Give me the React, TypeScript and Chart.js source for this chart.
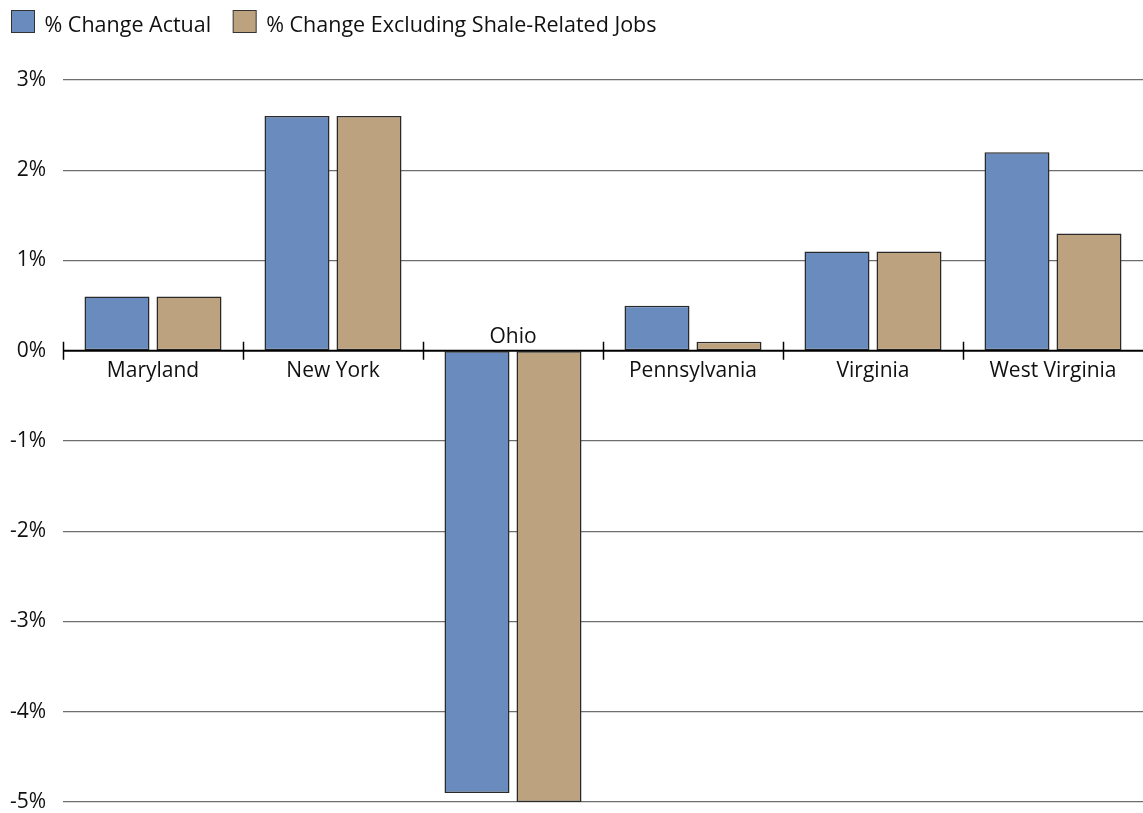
import React, { useEffect, useRef } from "react";
import { Chart, registerables } from "chart.js";

Chart.register(...registerables);

const categories = ["Maryland", "New York", "Ohio", "Pennsylvania", "Virginia", "West Virginia"];
const actualChange = [0.6, 2.6, -4.9, 0.5, 1.1, 2.2];
const excludingShale = [0.6, 2.6, -5.0, 0.1, 1.1, 1.3];
const seriesNames = ["% Change Actual", "% Change Excluding Shale-Related Jobs"];
const yMin = -5;
const yMax = 3;

const FONT = "'Open Sans', 'Noto Sans', sans-serif";
const BLUE = "#6a8bbe";
const TAN = "#bca27e";
const EDGE = "#2a2a2a";

const overlayPlugin = {
  id: "overlay",
  afterDatasetsDraw(chart: any) {
    const ctx = chart.ctx as CanvasRenderingContext2D;
    const x = chart.scales.x;
    const y = chart.scales.y;
    const area = chart.chartArea;
    const y0 = y.getPixelForValue(0);
    ctx.save();
    // zero axis line
    ctx.strokeStyle = "#000";
    ctx.lineWidth = 2;
    ctx.beginPath();
    ctx.moveTo(area.left, y0);
    ctx.lineTo(area.right, y0);
    ctx.stroke();
    // category boundary ticks
    ctx.lineWidth = 1.5;
    const n = categories.length;
    const step = (area.right - area.left) / n;
    for (let i = 0; i < n; i++) {
      const cx = x.getPixelForValue(i) - step / 2;
      ctx.beginPath();
      ctx.moveTo(Math.round(cx) + 0.5, y0 - 9);
      ctx.lineTo(Math.round(cx) + 0.5, y0 + 9);
      ctx.stroke();
    }
    // category labels
    ctx.fillStyle = "#111";
    ctx.font = `21px ${FONT}`;
    ctx.textAlign = "center";
    ctx.textBaseline = "alphabetic";
    categories.forEach((c, i) => {
      const cx = x.getPixelForValue(i);
      const neg = actualChange[i] < 0 && excludingShale[i] < 0;
      ctx.fillText(c, cx, neg ? y0 - 8 : y0 + 26);
    });
    // legend
    const colors = [BLUE, TAN];
    let lx = 11.5;
    ctx.textAlign = "left";
    ctx.font = `21.5px ${FONT}`;
    seriesNames.forEach((name, i) => {
      ctx.fillStyle = colors[i];
      ctx.fillRect(lx, 10.5, 23, 22);
      ctx.strokeStyle = "#333";
      ctx.lineWidth = 1;
      ctx.strokeRect(lx, 10.5, 23, 22);
      ctx.fillStyle = "#111";
      ctx.fillText(name, lx + 33, 32);
      lx += 33 + ctx.measureText(name).width + 22;
    });
    ctx.restore();
  },
};

export default function App() {
  const ref = useRef<HTMLCanvasElement | null>(null);
  useEffect(() => {
    if (!ref.current) return;
    const chart = new Chart(ref.current, {
      type: "bar",
      data: {
        labels: categories,
        datasets: [
          {
            label: seriesNames[0],
            data: actualChange,
            backgroundColor: BLUE,
            borderColor: EDGE,
            borderWidth: 1.5,
            borderSkipped: false,
            inflateAmount: 0,
            categoryPercentage: 0.8,
            barPercentage: 0.903,
          },
          {
            label: seriesNames[1],
            data: excludingShale,
            backgroundColor: TAN,
            borderColor: EDGE,
            borderWidth: 1.5,
            borderSkipped: false,
            inflateAmount: 0,
            categoryPercentage: 0.8,
            barPercentage: 0.903,
          },
        ],
      },
      options: {
        animation: false,
        responsive: false,
        layout: { padding: { top: 80, bottom: 11, left: 0, right: 0 } },
        plugins: { legend: { display: false }, tooltip: { enabled: false } },
        scales: {
          x: { display: false },
          y: {
            min: yMin,
            max: yMax,
            afterFit(scale: any) {
              scale.width = 63;
              scale.paddingTop = 0;
              scale.paddingBottom = 0;
            },
            border: { display: false },
            grid: {
              drawTicks: false,
              color: (c: any) => (c.tick && c.tick.value === 0 ? "rgba(0,0,0,0)" : "#6e6e6e"),
              lineWidth: 1.2,
            },
            ticks: {
              stepSize: 1,
              padding: 17,
              color: "#111",
              font: { family: FONT, size: 21 },
              callback: (v: any) => `${v}%`,
            },
          },
        },
      },
      plugins: [overlayPlugin],
    });
    return () => chart.destroy();
  }, []);
  return (
    <canvas
      ref={ref}
      width={1143}
      height={813}
      style={{ position: "absolute", left: 0, top: 0, width: 1143, height: 813 }}
    />
  );
}
